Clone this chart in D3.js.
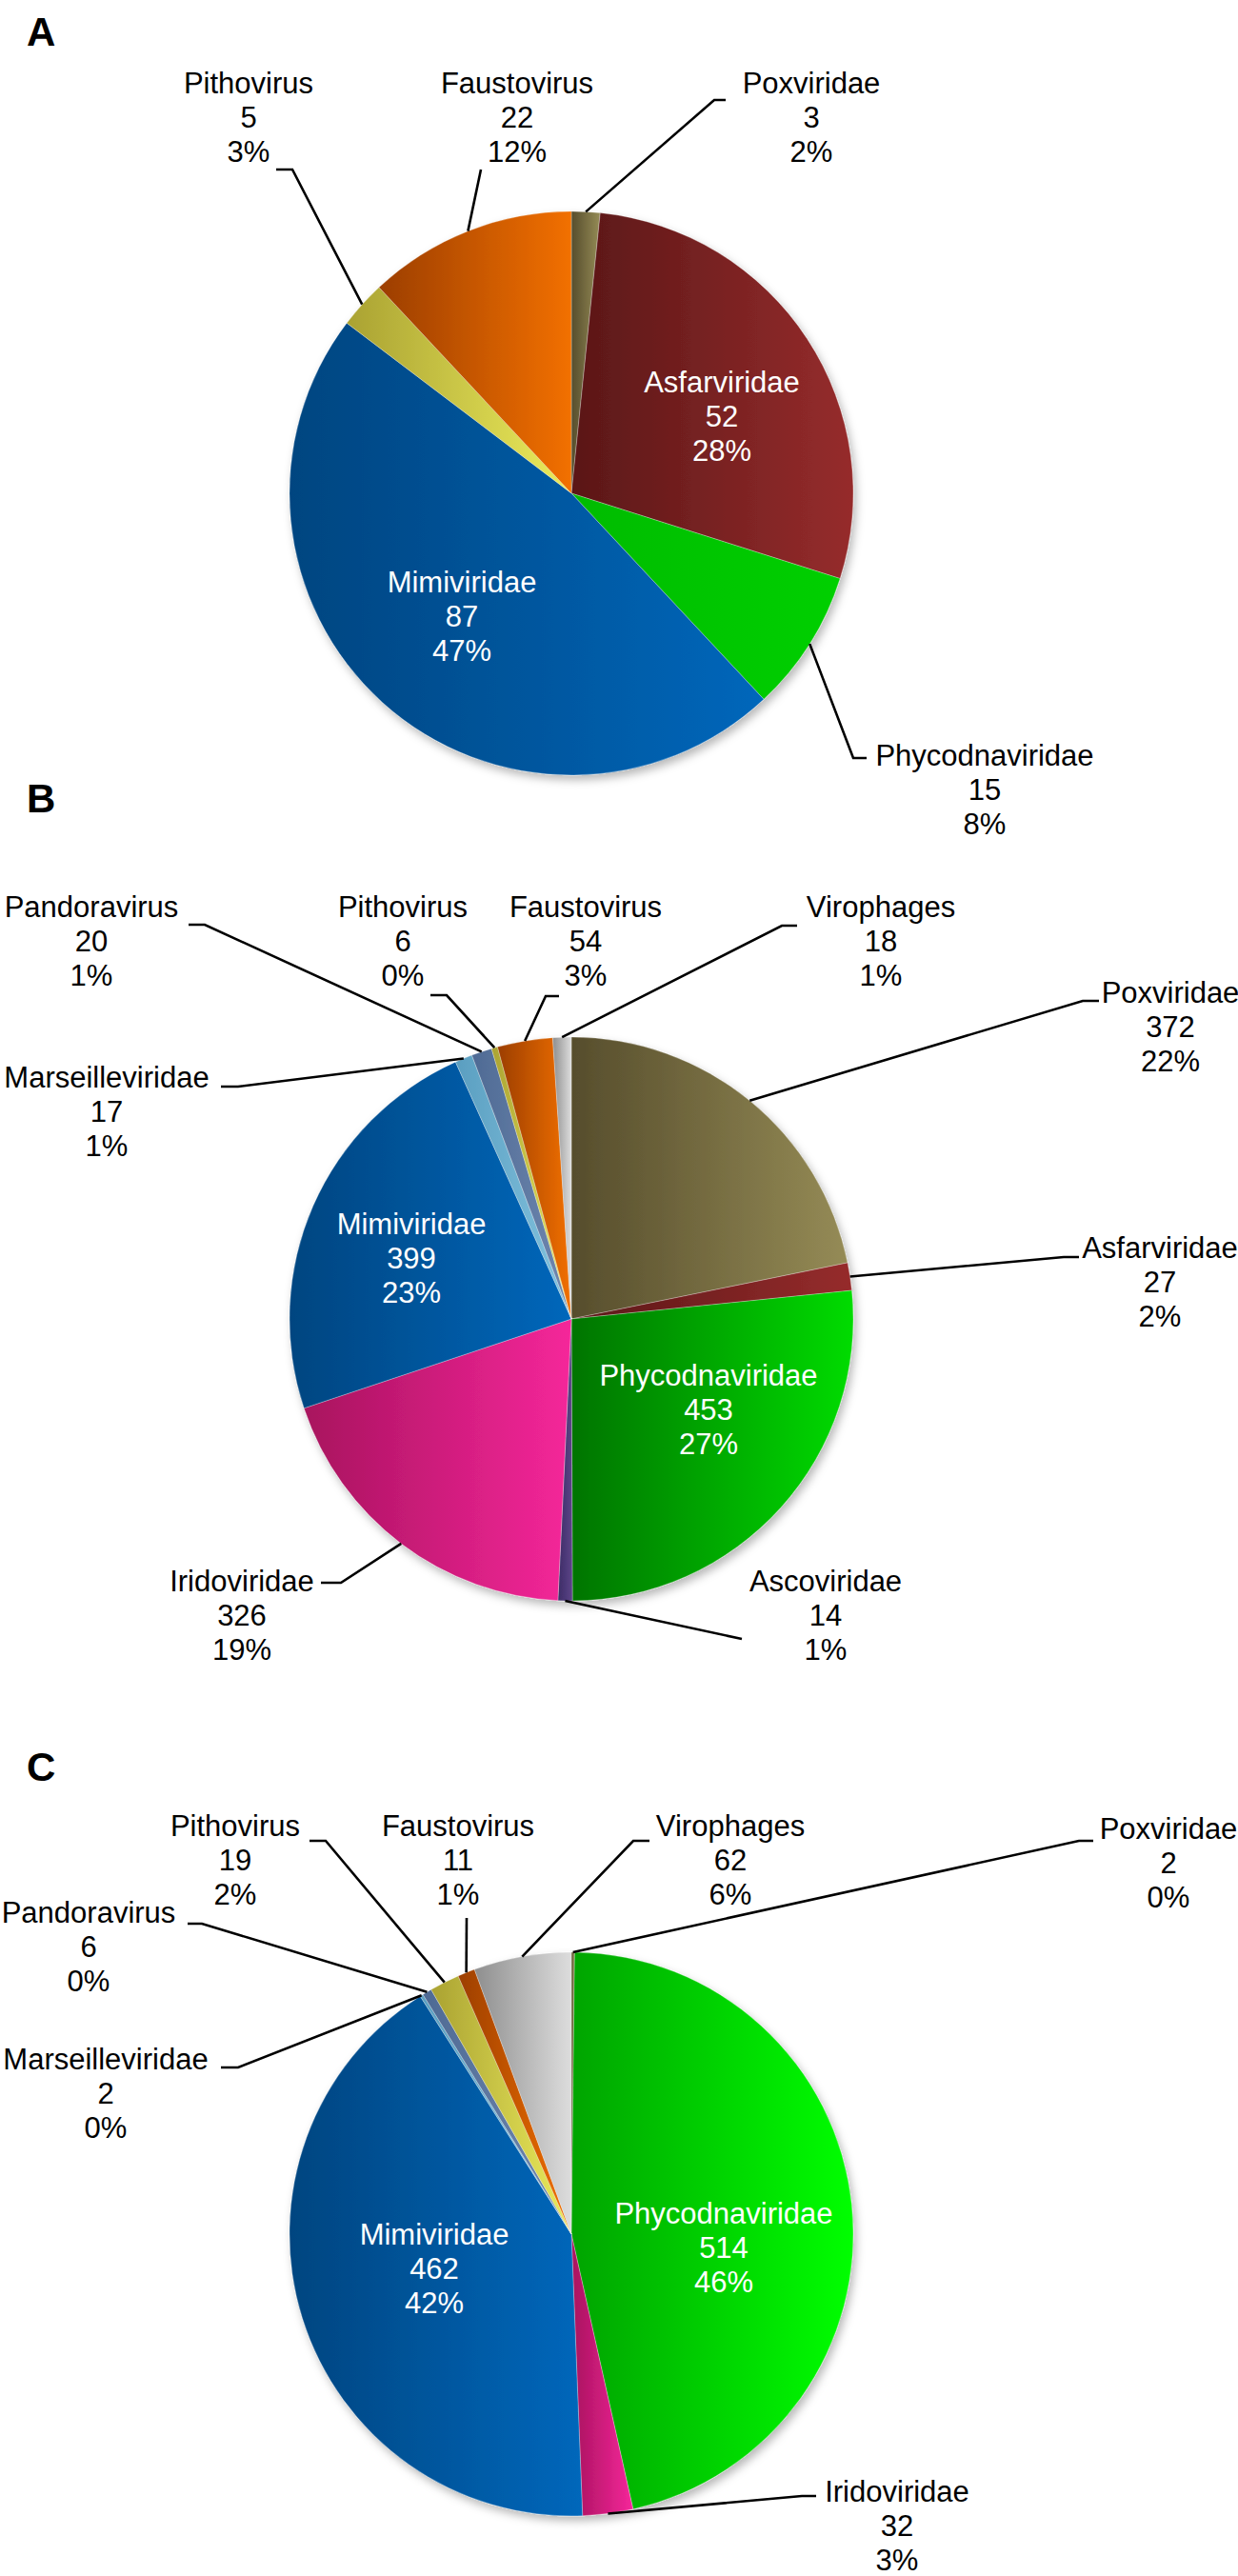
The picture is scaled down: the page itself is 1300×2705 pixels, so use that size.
<!DOCTYPE html>
<html>
<head>
<meta charset="utf-8">
<script src="https://cdn.jsdelivr.net/npm/d3@7"></script>
<style>
  body { margin: 0; padding: 0; background: #fff; }
  svg text { font-family: "Liberation Sans", Arial, sans-serif; }
</style>
</head>
<body>
<script>
// pie A
var catsA = ["Poxviridae", "Asfarviridae", "Phycodnaviridae", "Mimiviridae", "Pithovirus", "Faustovirus"];
var valsA = [3, 52, 15, 87, 5, 22];
var pctA  = ["2%", "28%", "8%", "47%", "3%", "12%"];
// pie B
var catsB = ["Poxviridae", "Asfarviridae", "Phycodnaviridae", "Ascoviridae", "Iridoviridae", "Mimiviridae",
             "Marseilleviridae", "Pandoravirus", "Pithovirus", "Faustovirus", "Virophages"];
var valsB = [372, 27, 453, 14, 326, 399, 17, 20, 6, 54, 18];
var pctB  = ["22%", "2%", "27%", "1%", "19%", "23%", "1%", "1%", "0%", "3%", "1%"];
// pie C
var catsC = ["Poxviridae", "Phycodnaviridae", "Iridoviridae", "Mimiviridae", "Marseilleviridae",
             "Pandoravirus", "Pithovirus", "Faustovirus", "Virophages"];
var valsC = [2, 514, 32, 462, 2, 6, 19, 11, 62];
var pctC  = ["0%", "46%", "3%", "42%", "0%", "0%", "2%", "1%", "6%"];

// slice colours, [dark left, light right]
var colors = {
  "Poxviridae":       ["#564d2c", "#958b56"],
  "Asfarviridae":     ["#5a1717", "#962c2c"],
  "Phycodnaviridae":  ["#007400", "#00dc00"],
  "Ascoviridae":      ["#3c2c66", "#5c4488"],
  "Iridoviridae":     ["#a8125e", "#f5279a"],
  "Mimiviridae":      ["#004580", "#0067bb"],
  "Marseilleviridae": ["#5a9ec0", "#84c4e0"],
  "Pandoravirus":     ["#4e6a94", "#7088b0"],
  "Pithovirus":       ["#aaa232", "#ecec5c"],
  "Faustovirus":      ["#9c3e00", "#f27000"],
  "Virophages":       ["#8e8e8e", "#dddddd"]
};
var phycoC = ["#00a400", "#00ff00"];
var phycoA = ["#00bb00", "#00d000"];

var R = 296;
var W = 1300, H = 2705;

// label layout: text centre (first line) and the leader points before the pie edge
var layoutA = [
  {x: 852, y: 87, lead: [[762, 105], [750, 105]]},
  {x: 758, y: 401, inside: true},
  {x: 1034, y: 793, lead: [[910, 796], [896, 796]]},
  {x: 485, y: 611, inside: true},
  {x: 261, y: 87, lead: [[290, 178], [307, 178]]},
  {x: 543, y: 87, lead: [[505, 178]]}
];
var layoutB = [
  {x: 1229, y: 1042, lead: [[1154, 1051], [1137, 1051]]},
  {x: 1218, y: 1310, lead: [[1133, 1320], [1117, 1320]]},
  {x: 744, y: 1444, inside: true},
  {x: 867, y: 1660, lead: [[779, 1721]]},
  {x: 254, y: 1660, lead: [[337, 1662], [358, 1662]]},
  {x: 432, y: 1285, inside: true},
  {x: 112, y: 1131, lead: [[232, 1141], [250, 1141]]},
  {x: 96, y: 952, lead: [[198, 971], [215, 971]]},
  {x: 423, y: 952, lead: [[452, 1045], [469, 1045]]},
  {x: 615, y: 952, lead: [[587, 1046], [573, 1046]]},
  {x: 925, y: 952, lead: [[837, 972], [821, 972]]}
];
var layoutC = [
  {x: 1227, y: 1920, lead: [[1148, 1933], [1133, 1933]]},
  {x: 760, y: 2324, inside: true},
  {x: 942, y: 2616, lead: [[857, 2621], [842, 2621]]},
  {x: 456, y: 2346, inside: true},
  {x: 111, y: 2162, lead: [[232, 2171], [250, 2171]]},
  {x: 93, y: 2008, lead: [[197, 2020], [212, 2020]]},
  {x: 247, y: 1917, lead: [[325, 1933], [342, 1933]]},
  {x: 481, y: 1917, lead: [[490, 2014]]},
  {x: 767, y: 1917, lead: [[682, 1933], [665, 1933]]}
];

var svg = d3.select("body").append("svg")
    .attr("width", W)
    .attr("height", H);
var defs = svg.append("defs");

var shadow = defs.append("filter").attr("id", "shadow")
    .attr("x", "-10%").attr("y", "-10%").attr("width", "125%").attr("height", "125%");
shadow.append("feDropShadow")
    .attr("dx", 3).attr("dy", 5).attr("stdDeviation", 5)
    .attr("flood-color", "#000").attr("flood-opacity", 0.28);

var arc = d3.arc().innerRadius(0).outerRadius(R);
var edge = d3.arc().innerRadius(R).outerRadius(R);
var pie = d3.pie().sort(null).value(function (d) { return d.v; });

function drawPie(id, letter, letterY, cx, cy, cats, vals, pcts, layout, over) {
  var data = cats.map(function (c, i) { return {c: c, v: vals[i], p: pcts[i], lay: layout[i]}; });
  var arcs = pie(data);

  svg.append("text")
      .attr("x", 28).attr("y", letterY)
      .style("font-size", "42px").style("font-weight", "bold")
      .text(letter);

  var g = svg.append("g").attr("transform", "translate(" + cx + "," + cy + ")");
  var slices = g.append("g").attr("filter", "url(#shadow)");

  slices.selectAll("path").data(arcs).enter().append("path")
      .attr("d", arc)
      .attr("fill", function (d, i) {
        var col = (over && over[d.data.c]) || colors[d.data.c];
        var gid = id + "g" + i;
        var lg = defs.append("linearGradient").attr("id", gid)
            .attr("x1", 0).attr("y1", 0).attr("x2", 1).attr("y2", 0);
        lg.append("stop").attr("offset", "0%").attr("stop-color", col[0]);
        lg.append("stop").attr("offset", "100%").attr("stop-color", col[1]);
        return "url(#" + gid + ")";
      })
      .attr("stroke", "rgba(255,255,255,0.35)")
      .attr("stroke-width", 0.8);

  // leader lines
  var line = d3.line();
  arcs.forEach(function (d) {
    var lay = d.data.lay;
    if (lay.inside) return;
    var p = edge.centroid(d);
    var pts = lay.lead.concat([[p[0] + cx, p[1] + cy]]);
    svg.append("path")
        .attr("d", line(pts))
        .attr("fill", "none")
        .attr("stroke", "#000")
        .attr("stroke-width", 2.6);
  });

  // labels
  arcs.forEach(function (d) {
    var lay = d.data.lay;
    var t = svg.append("text")
        .attr("text-anchor", "middle")
        .style("font-size", "31px")
        .attr("fill", lay.inside ? "#fff" : "#000");
    [d.data.c, String(d.data.v), d.data.p].forEach(function (s, k) {
      t.append("tspan").attr("x", lay.x).attr("y", lay.y + 11 + k * 36).text(s);
    });
  });
}

drawPie("pa", "A", 48, 600, 518, catsA, valsA, pctA, layoutA, {"Phycodnaviridae": phycoA});
drawPie("pb", "B", 853, 600, 1385, catsB, valsB, pctB, layoutB, null);
drawPie("pc", "C", 1870, 600, 2346, catsC, valsC, pctC, layoutC, {"Phycodnaviridae": phycoC});
</script>
</body>
</html>
